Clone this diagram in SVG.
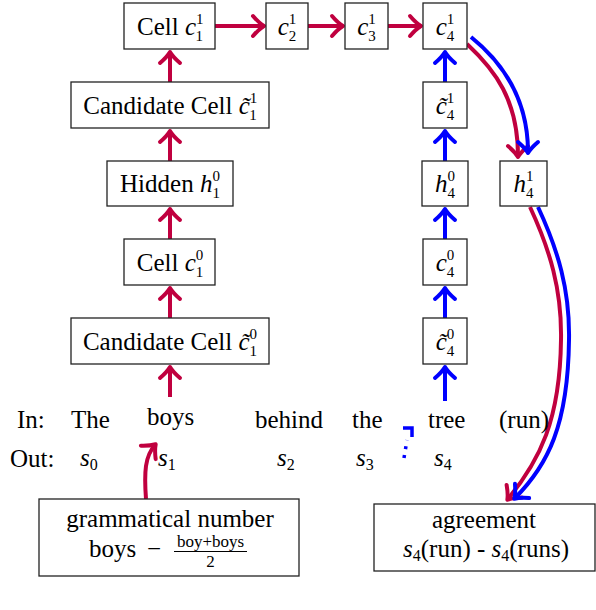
<svg xmlns="http://www.w3.org/2000/svg" width="596" height="610" viewBox="0 0 596 610" font-family="'Liberation Serif', 'Times New Roman', Times, Tinos, 'DejaVu Serif', serif">
<style>
text{font-family:'Liberation Serif','Times New Roman',Times,Tinos,'DejaVu Serif',serif;font-size:25px;fill:#000}
.mid{text-anchor:middle}
.m{font-style:italic}
.s{font-size:16px}
.t{font-size:15px}
.box{fill:#fff;stroke:#222;stroke-width:1.3}
.r{fill:none;stroke:#C0003F;stroke-width:4}
.b{fill:none;stroke:#0000FF;stroke-width:4}
</style>
<defs>
<marker id="ar" markerUnits="userSpaceOnUse" markerWidth="30" markerHeight="30" refX="0" refY="0" viewBox="-15 -15 30 30" orient="auto" overflow="visible">
<path d="M-10,-10 Q-4,-3 1,0 Q-4,3 -10,10" fill="none" stroke="#C0003F" stroke-width="4" stroke-linecap="round" stroke-linejoin="round"/>
</marker>
<marker id="ab" markerUnits="userSpaceOnUse" markerWidth="30" markerHeight="30" refX="0" refY="0" viewBox="-15 -15 30 30" orient="auto" overflow="visible">
<path d="M-10,-10 Q-4,-3 1,0 Q-4,3 -10,10" fill="none" stroke="#0000FF" stroke-width="4" stroke-linecap="round" stroke-linejoin="round"/>
</marker>
</defs>

<g id="connectors">
<path class="r" d="M170,397 L170,368" marker-end="url(#ar)"/>
<path class="r" d="M170,318 L170,289" marker-end="url(#ar)"/>
<path class="r" d="M170,239 L170,210" marker-end="url(#ar)"/>
<path class="r" d="M170,161 L170,132" marker-end="url(#ar)"/>
<path class="r" d="M170,82 L170,53" marker-end="url(#ar)"/>
<path class="r" d="M215,26 L263,26" marker-end="url(#ar)"/>
<path class="r" d="M308,26 L342,26" marker-end="url(#ar)"/>
<path class="r" d="M388,26 L420,26" marker-end="url(#ar)"/>
<path class="b" d="M445,401 L445,368" marker-end="url(#ab)"/>
<path class="b" d="M445,318 L445,289" marker-end="url(#ab)"/>
<path class="b" d="M445,239 L445,210" marker-end="url(#ab)"/>
<path class="b" d="M445,161 L445,132" marker-end="url(#ab)"/>
<path class="b" d="M445,82 L445,53" marker-end="url(#ab)"/>
<path class="r" d="M467,44 C495,70 518,100 518,156" marker-end="url(#ar)"/>
<path class="b" d="M471,37 C502,62 528,98 528,152" marker-end="url(#ab)"/>
<path class="r" d="M530,207 C550,250 562,290 561,340 C560,420 540,460 508,499" marker-end="url(#ar)"/>
<path class="b" d="M538,207 C558,250 570,290 569,340 C568,425 548,465 515,498" marker-end="url(#ab)"/>
<path class="r" d="M146,499 C144,472 145,456 155,445" marker-end="url(#ar)"/>
<path d="M404,458 L407,440" fill="none" stroke="#0000FF" stroke-width="3.5" stroke-dasharray="3,6"/>
<path d="M403,428 L412,428 L412,437" fill="none" stroke="#0000FF" stroke-width="3.5"/>
</g>

<g id="cell11"><rect class="box" x="124" y="3" width="91" height="46"/>
<text class="mid" x="170" y="35">Cell <tspan class="m">c</tspan><tspan class="t" dy="-11">1</tspan><tspan class="t" dx="-7.5" dy="17">1</tspan></text></g>
<g id="cand11"><rect class="box" x="71" y="82" width="198" height="46"/>
<text class="mid" x="170" y="114">Candidate Cell <tspan class="m">c&#x303;</tspan><tspan class="t" dy="-11">1</tspan><tspan class="t" dx="-7.5" dy="17">1</tspan></text></g>
<g id="hid10"><rect class="box" x="107" y="161" width="126" height="45"/>
<text class="mid" x="170" y="192">Hidden <tspan class="m">h</tspan><tspan class="t" dy="-11">0</tspan><tspan class="t" dx="-7.5" dy="17">1</tspan></text></g>
<g id="cell10"><rect class="box" x="124" y="239" width="91" height="46"/>
<text class="mid" x="170" y="271">Cell <tspan class="m">c</tspan><tspan class="t" dy="-11">0</tspan><tspan class="t" dx="-7.5" dy="17">1</tspan></text></g>
<g id="cand10"><rect class="box" x="71" y="318" width="198" height="46"/>
<text class="mid" x="170" y="350">Candidate Cell <tspan class="m">c&#x303;</tspan><tspan class="t" dy="-11">0</tspan><tspan class="t" dx="-7.5" dy="17">1</tspan></text></g>

<g id="c21"><rect class="box" x="266" y="3" width="42" height="46"/>
<text class="mid" x="287" y="35"><tspan class="m">c</tspan><tspan class="t" dy="-11">1</tspan><tspan class="t" dx="-7.5" dy="17">2</tspan></text></g>
<g id="c31"><rect class="box" x="345" y="3" width="43" height="46"/>
<text class="mid" x="366.5" y="35"><tspan class="m">c</tspan><tspan class="t" dy="-11">1</tspan><tspan class="t" dx="-7.5" dy="17">3</tspan></text></g>
<g id="c41"><rect class="box" x="423" y="3" width="44" height="46"/>
<text class="mid" x="445" y="35"><tspan class="m">c</tspan><tspan class="t" dy="-11">1</tspan><tspan class="t" dx="-7.5" dy="17">4</tspan></text></g>
<g id="ct41"><rect class="box" x="423" y="82" width="44" height="46"/>
<text class="mid" x="445" y="114"><tspan class="m">c&#x303;</tspan><tspan class="t" dy="-11">1</tspan><tspan class="t" dx="-7.5" dy="17">4</tspan></text></g>
<g id="h40"><rect class="box" x="422" y="161" width="46" height="45"/>
<text class="mid" x="445" y="192"><tspan class="m">h</tspan><tspan class="t" dy="-11">0</tspan><tspan class="t" dx="-7.5" dy="17">4</tspan></text></g>
<g id="h41"><rect class="box" x="500" y="161" width="47" height="45"/>
<text class="mid" x="523.5" y="192"><tspan class="m">h</tspan><tspan class="t" dy="-11">1</tspan><tspan class="t" dx="-7.5" dy="17">4</tspan></text></g>
<g id="c40"><rect class="box" x="423" y="239" width="44" height="46"/>
<text class="mid" x="445" y="271"><tspan class="m">c</tspan><tspan class="t" dy="-11">0</tspan><tspan class="t" dx="-7.5" dy="17">4</tspan></text></g>
<g id="ct40"><rect class="box" x="423" y="318" width="44" height="46"/>
<text class="mid" x="445" y="350"><tspan class="m">c&#x303;</tspan><tspan class="t" dy="-11">0</tspan><tspan class="t" dx="-7.5" dy="17">4</tspan></text></g>

<g id="inrow">
<text x="17" y="428">In:</text>
<text x="71" y="428">The</text>
<text x="147" y="425">boys</text>
<text x="255" y="428">behind</text>
<text x="352" y="428">the</text>
<text x="428" y="428">tree</text>
<text x="499" y="428">(run)</text>
</g>
<g id="outrow">
<text x="10" y="467">Out:</text>
<text x="80" y="466"><tspan class="m">s</tspan><tspan class="s" dy="4">0</tspan></text>
<text x="158" y="466"><tspan class="m">s</tspan><tspan class="s" dy="4">1</tspan></text>
<text x="277" y="466"><tspan class="m">s</tspan><tspan class="s" dy="4">2</tspan></text>
<text x="356" y="466"><tspan class="m">s</tspan><tspan class="s" dy="4">3</tspan></text>
<text x="434" y="466"><tspan class="m">s</tspan><tspan class="s" dy="4">4</tspan></text>
</g>

<g id="gram"><rect class="box" x="39" y="499" width="260" height="77"/>
<text class="mid" x="170" y="527">grammatical number</text>
<text x="89" y="557">boys</text>
<text x="147" y="557">&#x2212;</text>
<text class="mid" x="210.5" y="547" style="font-size:17px">boy+boys</text>
<line x1="174" y1="551.5" x2="247" y2="551.5" stroke="#000" stroke-width="1"/>
<text class="mid" x="210.5" y="567" style="font-size:17px">2</text>
</g>
<g id="agree"><rect class="box" x="374" y="504" width="221" height="67"/>
<text class="mid" x="484" y="528">agreement</text>
<text class="mid" x="486" y="557"><tspan class="m">s</tspan><tspan class="s" dy="4">4</tspan><tspan dy="-4">(run) - </tspan><tspan class="m">s</tspan><tspan class="s" dy="4">4</tspan><tspan dy="-4">(runs)</tspan></text>
</g>
</svg>
